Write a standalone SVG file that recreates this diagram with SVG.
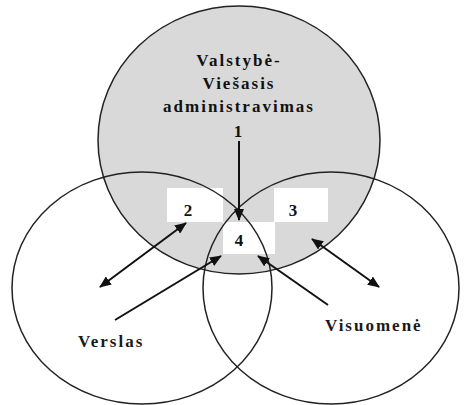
<svg xmlns="http://www.w3.org/2000/svg" width="464" height="405" viewBox="0 0 464 405">
<defs>
<marker id="ah" viewBox="0 0 12 10" refX="11" refY="5" markerWidth="12" markerHeight="10" markerUnits="userSpaceOnUse" orient="auto-start-reverse">
<path d="M0,0 L12,5 L0,10 Z" fill="#111"/>
</marker>
<style>
.c{fill:none;stroke:#222;stroke-width:1.5}
.t{font-family:"Liberation Serif","Times New Roman",serif;font-weight:bold;font-size:17px;fill:#1a1a1a}
.n{font-family:"Liberation Serif","Times New Roman",serif;font-weight:bold;font-size:17px;fill:#111;text-anchor:middle}
.a{stroke:#111;stroke-width:2;fill:none}
</style>
</defs>
<rect width="464" height="405" fill="#fff"/>
<g id="gov">
<ellipse cx="239" cy="140" rx="141" ry="134" fill="#d9d9d9" stroke="#222" stroke-width="1.5"/>
</g>
<g id="boxes">
<rect x="167" y="188" width="56" height="34" fill="#fff"/>
<rect x="274" y="188" width="54" height="34" fill="#fff"/>
<rect x="223" y="222" width="52" height="32" fill="#fff"/>
</g>
<g id="business">
<ellipse class="c" cx="142" cy="288" rx="130" ry="116"/>
</g>
<g id="society">
<ellipse class="c" cx="331" cy="288" rx="128" ry="116"/>
</g>
<g id="labels">
<text class="n" x="239" y="66" letter-spacing="2">Valstybė-</text>
<text class="n" x="239" y="89" letter-spacing="2">Viešasis</text>
<text class="n" x="239" y="112" letter-spacing="2">administravimas</text>
<text class="n" x="238" y="137">1</text>
<text class="n" x="188" y="216">2</text>
<text class="n" x="293" y="216">3</text>
<text class="n" x="239" y="246">4</text>
<text class="t" x="78" y="347" letter-spacing="2">Verslas</text>
<text class="t" x="325" y="331" letter-spacing="2">Visuomenė</text>
</g>
<g id="connectors">
<line class="a" x1="239" y1="141" x2="239" y2="220" marker-end="url(#ah)"/>
<line class="a" x1="100" y1="287" x2="186" y2="223" marker-start="url(#ah)" marker-end="url(#ah)"/>
<line class="a" x1="115" y1="320" x2="221" y2="256" marker-end="url(#ah)"/>
<line class="a" x1="312" y1="239" x2="379" y2="287" marker-start="url(#ah)" marker-end="url(#ah)"/>
<line class="a" x1="328" y1="305" x2="258" y2="256" marker-end="url(#ah)"/>
</g>
</svg>
